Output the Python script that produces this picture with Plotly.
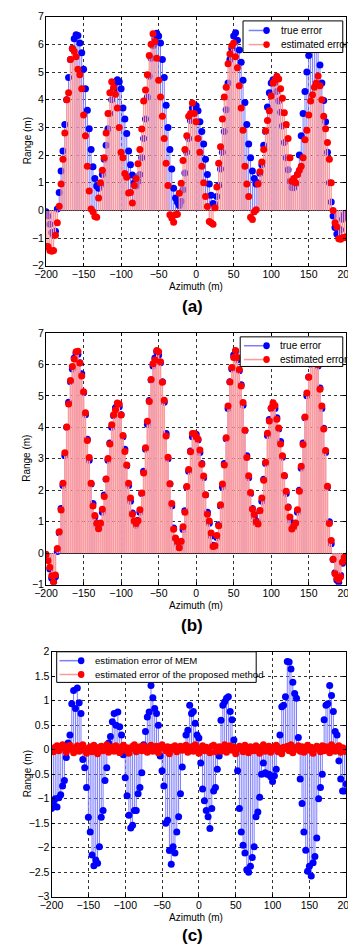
import plotly.graph_objects as go

# ---------------- data ----------------
AZIMUTH = [
    -200, -197.5, -195, -192.5, -190, -187.5, -185, -182.5, -180, -177.5,
    -175, -172.5, -170, -167.5, -165, -162.5, -160, -157.5, -155, -152.5,
    -150, -147.5, -145, -142.5, -140, -137.5, -135, -132.5, -130, -127.5,
    -125, -122.5, -120, -117.5, -115, -112.5, -110, -107.5, -105, -102.5,
    -100, -97.5, -95, -92.5, -90, -87.5, -85, -82.5, -80, -77.5,
    -75, -72.5, -70, -67.5, -65, -62.5, -60, -57.5, -55, -52.5,
    -50, -47.5, -45, -42.5, -40, -37.5, -35, -32.5, -30, -27.5,
    -25, -22.5, -20, -17.5, -15, -12.5, -10, -7.5, -5, -2.5,
    0, 2.5, 5, 7.5, 10, 12.5, 15, 17.5, 20, 22.5,
    25, 27.5, 30, 32.5, 35, 37.5, 40, 42.5, 45, 47.5,
    50, 52.5, 55, 57.5, 60, 62.5, 65, 67.5, 70, 72.5,
    75, 77.5, 80, 82.5, 85, 87.5, 90, 92.5, 95, 97.5,
    100, 102.5, 105, 107.5, 110, 112.5, 115, 117.5, 120, 122.5,
    125, 127.5, 130, 132.5, 135, 137.5, 140, 142.5, 145, 147.5,
    150, 152.5, 155, 157.5, 160, 162.5, 165, 167.5, 170, 172.5,
    175, 177.5, 180, 182.5, 185, 187.5, 190, 192.5, 195, 197.5,
    200,
]

# true range error (panels a and b)
TRUE_ERROR = [
    -0.05, -0.2, -0.5, -0.8, -0.9, -0.75, 0.05, 0.65, 1.42, 2.15,
    3.1, 4.0, 4.8, 5.45, 5.85, 6.2, 6.35, 6.32, 6.05, 5.7,
    5.1, 4.4, 3.62, 2.95, 2.2, 1.58, 1.15, 0.88, 0.8, 0.92,
    1.3, 1.85, 2.35, 2.95, 3.5, 4.0, 4.37, 4.62, 4.72, 4.65,
    4.4, 3.7, 3.3, 2.78, 2.15, 1.65, 1.28, 1.0, 0.88, 1.05,
    1.3, 1.9, 2.6, 3.3, 4.1, 4.85, 5.5, 5.95, 6.2, 6.4,
    6.3, 6.05, 5.45, 4.8, 3.8, 3.0, 2.2, 1.5, 0.8, 0.45,
    0.3, 0.18, 0.33, 0.75, 1.35, 2.1, 2.6, 3.25, 3.7, 3.76,
    3.78, 3.6, 3.2, 2.85, 2.4, 1.85, 1.3, 0.95, 0.55, 0.25,
    0.22, 0.5, 0.9, 1.5, 2.1, 2.85, 3.64, 4.6, 5.45, 5.85,
    6.3, 6.42, 6.15, 5.8, 5.35, 4.7, 3.9, 3.1, 2.4, 1.9,
    1.42, 1.15, 0.95, 1.0, 1.34, 1.65, 2.35, 2.85, 3.74, 4.25,
    4.6, 4.72, 4.6, 4.3, 3.95, 3.55, 3.05, 2.45, 1.9, 1.47,
    1.05, 0.83, 0.82, 0.95, 1.3, 2.0, 2.7, 3.5, 4.3, 5.0,
    5.6, 6.0, 6.25, 6.35, 6.25, 5.95, 5.25, 4.6, 3.97, 3.2,
    2.1, 1.0, 0.3, -0.2, -0.62, -0.85, -0.92, -0.7, -0.32, -0.15,
    -0.1,
]

# estimated error, panel (a)
EST_ERROR_A = [
    -1.3, -1.3, -1.45, -1.48, -1.45, -0.9, -0.45, 0.15, 0.95, 1.85,
    2.8, 4.0, 4.25, 5.45, 5.85, 5.75, 5.55, 5.1, 4.9, 4.4,
    3.45, 2.7, 1.6, 0.7, 0.05, -0.05, -0.22, -0.25, 0.45, 1.0,
    1.45, 1.9, 2.8, 3.5, 4.25, 4.65, 4.45, 4.2, 3.7, 3.0,
    2.1, 1.9, 1.33, 1.2, 0.63, 0.65, 0.27, 0.9, 1.15, 1.69,
    2.2, 2.94, 3.95, 4.35, 4.9, 5.6, 6.0, 6.38, 6.1, 5.5,
    4.7, 4.1, 3.4, 2.6, 1.7, 0.9, -0.16, -0.27, -0.43, -0.16,
    -0.14, 0.62, 0.98, 1.8, 2.2, 2.7, 3.4, 3.5, 3.88, 3.5,
    3.2, 2.6, 2.1, 1.6, 1.0, 0.5, 0.14, -0.4, -0.45, -0.5,
    0.1, 0.85, 1.7, 2.3, 3.3, 4.1, 4.45, 5.3, 5.65, 5.95,
    6.05, 5.55, 5.15, 4.5, 3.7, 2.9, 1.6, 0.95, 0.5, -0.25,
    -0.33, -0.05, 0.02, 0.95, 1.4, 1.75, 2.2, 2.88, 3.25, 3.6,
    4.13, 4.6, 4.7, 4.85, 4.75, 4.4, 4.05, 3.53, 3.1, 2.6,
    1.9, 1.05, 1.15, 1.0, 1.3, 1.45, 1.6, 1.9, 2.55, 2.9,
    3.45, 3.95, 4.18, 4.45, 4.6, 4.86, 4.5, 4.0, 3.4, 2.95,
    2.45, 1.85, 1.0, 0.0, -0.45, -0.6, -1.02, -1.04, -1.0, -0.98,
    -0.95,
]

# estimated error, panel (b)
EST_ERROR_B = [
    -0.03, -0.24, -0.45, -0.72, -0.92, -0.69, 0.15, 0.68, 1.37, 2.22,
    3.19, 4.01, 4.74, 5.49, 5.93, 6.17, 6.4, 6.42, 6.04, 5.63,
    5.13, 4.46, 3.58, 3.04, 2.22, 1.5, 1.2, 0.95, 0.78, 0.96,
    1.4, 1.8, 2.36, 3.01, 3.47, 4.08, 4.4, 4.56, 4.77, 4.74,
    4.39, 3.74, 3.23, 2.8, 2.22, 1.75, 1.24, 1.03, 0.94, 1.03,
    1.38, 1.91, 2.55, 3.35, 4.19, 4.82, 5.52, 6.02, 6.14, 6.44,
    6.4, 6.08, 5.43, 4.86, 3.72, 3.05, 2.21, 1.58, 0.76, 0.48,
    0.37, 0.17, 0.38, 0.84, 1.3, 2.12, 2.66, 3.22, 3.8, 3.8,
    3.71, 3.63, 3.28, 2.83, 2.45, 1.86, 1.24, 1.02, 0.64, 0.21,
    0.24, 0.56, 0.87, 1.54, 2.2, 2.8, 3.67, 4.68, 5.44, 5.9,
    6.22, 6.44, 6.22, 5.84, 5.31, 4.79, 3.91, 3.04, 2.46, 1.93,
    1.4, 1.23, 1.0, 0.93, 1.36, 1.75, 2.32, 2.89, 3.81, 4.2,
    4.61, 4.78, 4.69, 4.26, 3.98, 3.47, 3.1, 2.47, 1.97, 1.45,
    1.15, 0.77, 0.86, 0.96, 1.38, 1.97, 2.76, 3.45, 4.33, 5.09,
    5.59, 6.05, 6.18, 6.37, 6.32, 5.99, 5.21, 4.68, 3.95, 3.26,
    2.13, 0.94, 0.4, -0.19, -0.65, -0.8, -0.84, -0.75, -0.28, -0.13,
    -0.14,
]

# panel (c): estimation error of MEM
MEM_ERROR = [
    -1.2, -1.1, -1.0, -1.17, -0.98, -0.92, -0.74, -0.63, -0.16, 0.14,
    0.3, 0.94, 1.21, 0.84, 1.26, 0.96, 0.74, -0.2, -0.37, -0.77,
    -1.38, -1.68, -2.15, -2.37, -2.25, -2.32, -1.98, -1.38, -1.24, -0.63,
    -0.37, 0.14, 0.27, 0.57, 0.74, 0.5, 0.77, 0.47, 0.3, -0.1,
    -0.57, -0.94, -1.34, -1.6, -1.54, -1.24, -1.24, -0.9, -0.77, -0.47,
    0.1, 0.37, 0.67, 0.77, 1.31, 1.06, 0.84, 0.74, 0.5, -0.13,
    -0.43, -0.74, -1.5, -1.44, -2.06, -2.34, -1.98, -2.11, -1.68, -1.37,
    -0.9, -0.35, 0.04, 0.3, 0.4, 0.91, 0.74, 0.78, 0.54, 0.3,
    0.24, -0.27, -0.8, -1.04, -1.24, -1.37, -1.61, -1.2, -0.84, -0.77,
    -0.4, -0.13, 0.6, 0.91, 0.98, 1.05, 1.08, 0.78, 0.61, 0.2,
    0.0, -0.43, -1.2, -1.68, -1.95, -2.11, -2.45, -2.5, -2.38, -2.2,
    -1.98, -1.37, -1.27, -0.97, -0.5, -0.27, -0.47, -0.5, -0.5, -0.55,
    -0.65, -0.53, -0.4, 0.04, 0.3, 0.88, 0.91, 1.08, 1.8, 1.79,
    1.65, 1.38, 1.15, 1.05, 0.25, -0.6, -1.1, -1.68, -2.05, -2.48,
    -2.38, -2.58, -2.31, -2.18, -1.8, -1.0, -0.77, -0.5, 0.61, 0.91,
    0.94, 1.31, 1.11, 0.78, 0.37, 0.3, -0.23, -0.6, -0.84, -0.84,
    -0.7,
]

# panel (c): estimated error of the proposed method
PROPOSED_ERROR = [
    0.02, -0.04, 0.05, 0.08, -0.02, 0.06, 0.1, 0.03, -0.05, 0.07,
    0.09, 0.01, -0.06, 0.04, 0.08, -0.03, 0.05, 0.1, -0.01, -0.07,
    0.03, 0.06, -0.04, 0.09, 0.02, -0.08, 0.05, 0.07, -0.02, 0.04,
    0.1, -0.05, 0.01, 0.06, -0.03, 0.08, 0.03, -0.06, 0.05, 0.09,
    -0.01, 0.04, -0.07, 0.02, 0.07, 0.1, -0.04, 0.03, 0.06, -0.02,
    0.08, 0.01, -0.05, 0.05, 0.09, -0.03, 0.02, 0.07, -0.06, 0.04,
    0.1, 0.03, -0.02, 0.06, -0.08, 0.05, 0.01, 0.08, -0.04, 0.03,
    0.07, -0.01, 0.05, 0.09, -0.05, 0.02, 0.06, -0.03, 0.1, 0.04,
    -0.07, 0.03, 0.08, -0.02, 0.05, 0.01, -0.06, 0.07, 0.09, -0.04,
    0.02, 0.06, -0.03, 0.04, 0.1, -0.05, 0.03, 0.08, -0.01, 0.05,
    -0.08, 0.02, 0.07, 0.04, -0.04, 0.09, 0.01, -0.06, 0.06, 0.03,
    -0.02, 0.08, 0.05, -0.07, 0.02, 0.1, -0.03, 0.04, 0.07, -0.05,
    0.01, 0.06, 0.09, -0.04, 0.03, -0.08, 0.05, 0.02, 0.07, -0.02,
    0.1, -0.06, 0.04, 0.01, 0.08, -0.03, 0.06, -0.05, 0.03, 0.09,
    -0.01, 0.05, -0.07, 0.02, 0.07, 0.04, -0.04, 0.08, -0.02, 0.06,
    0.03, -0.06, 0.1, 0.01, -0.03, 0.05, 0.08, -0.05, 0.04, 0.02,
    -0.04,
]

X_TICKS = [-200, -150, -100, -50, 0, 50, 100, 150, 200]
Y_TICKS_A = [-2, -1, 0, 1, 2, 3, 4, 5, 6, 7]
Y_TICKS_B = [-1, 0, 1, 2, 3, 4, 5, 6, 7]
Y_TICKS_C = [-3, -2.5, -2, -1.5, -1, -0.5, 0, 0.5, 1, 1.5, 2]

LABELS_AB = ["true error", "estimated error"]
LABELS_C = ["estimation error of MEM", "estimated error of the proposed method"]
PANEL_TAGS = ["(a)", "(b)", "(c)"]

# ---------------- styling ----------------
FONT = "Liberation Sans, Arial, sans-serif"
BLUE = "#0000ff"
RED = "#ff0000"
BLUE_STEM = "#7d7dff"
RED_STEM = "#ff9a9a"
W, H = 356, 945


def stem_xy(xs, ys):
    sx, sy = [], []
    for x, y in zip(xs, ys):
        sx += [x, x, None]
        sy += [0, y, None]
    return sx, sy


fig = go.Figure()


def add_stem(xs, ys, marker_color, stem_color, stem_width, xa, ya):
    sx, sy = stem_xy(xs, ys)
    fig.add_trace(go.Scatter(x=sx, y=sy, mode="lines", line=dict(color=stem_color, width=stem_width),
                             xaxis=xa, yaxis=ya, showlegend=False, hoverinfo="skip"))
    fig.add_trace(go.Scatter(x=xs, y=ys, mode="markers",
                             marker=dict(color=marker_color, size=7, line=dict(width=0)),
                             xaxis=xa, yaxis=ya, showlegend=False))


add_stem(AZIMUTH, TRUE_ERROR, BLUE, BLUE_STEM, 1, "x", "y")
add_stem(AZIMUTH, EST_ERROR_A, RED, RED_STEM, 1.3, "x", "y")
add_stem(AZIMUTH, TRUE_ERROR, BLUE, BLUE_STEM, 1, "x2", "y2")
add_stem(AZIMUTH, EST_ERROR_B, RED, RED_STEM, 1.6, "x2", "y2")
add_stem(AZIMUTH, MEM_ERROR, BLUE, BLUE_STEM, 1, "x3", "y3")
add_stem(AZIMUTH, PROPOSED_ERROR, RED, RED_STEM, 1.3, "x3", "y3")

# panel boxes in pixels: (left, right, top, bottom)
BOX_A = (27.7, 346.7, 2.7, 255.0)
BOX_B = (27.7, 346.7, 323.0, 578.0)
BOX_C = (33.5, 346.7, 646.0, 894.0)


def px(x):
    return x / W


def py(y):
    return 1 - y / H


def xdom(b):
    return [px(b[0]), px(b[1])]


def ydom(b):
    return [py(b[3]), py(b[2])]


axis_common = dict(
    showline=True, linecolor="black", linewidth=1, mirror="ticks",
    ticks="inside", ticklen=3, tickcolor="black",
    showgrid=True, gridcolor="rgba(0,0,0,0.8)", griddash="dot", gridwidth=1,
    tickfont=dict(family=FONT, size=10.5, color="black"),
    zeroline=False,
)

layout = dict(
    width=W, height=H, margin=dict(l=0, r=0, t=0, b=0),
    paper_bgcolor="white", plot_bgcolor="white",
    font=dict(family=FONT, color="black"), showlegend=False,
)
for i, (b, yt, yr) in enumerate([(BOX_A, Y_TICKS_A, [-2, 7]), (BOX_B, Y_TICKS_B, [-1, 7]),
                                  (BOX_C, Y_TICKS_C, [-3, 2])]):
    sfx = "" if i == 0 else str(i + 1)
    layout["xaxis" + sfx] = dict(axis_common, domain=xdom(b), range=[-200, 200],
                                 tickvals=X_TICKS, anchor="y" + sfx, ticklabelstandoff=-1)
    layout["yaxis" + sfx] = dict(axis_common, domain=ydom(b), range=yr,
                                 tickvals=yt, anchor="x" + sfx, ticklabelstandoff=-1,
                                 zeroline=(i < 2), zerolinecolor="black", zerolinewidth=1)

annotations = []
shapes = []
for b, tag, az_y, tag_y in [(BOX_A, PANEL_TAGS[0], 276, 296), (BOX_B, PANEL_TAGS[1], 599, 619),
                            (BOX_C, PANEL_TAGS[2], 915, 933)]:
    annotations.append(dict(text="Azimuth (m)", x=px(187), y=py(az_y), xref="paper", yref="paper",
                            showarrow=False, font=dict(family=FONT, size=10), xanchor="center",
                            yanchor="middle"))
    annotations.append(dict(text="<b>%s</b>" % tag, x=px(183), y=py(tag_y), xref="paper",
                            yref="paper", showarrow=False, font=dict(family=FONT, size=17),
                            xanchor="center", yanchor="middle"))
    annotations.append(dict(text="Range (m)", x=px(7.5), y=py((b[2] + b[3]) / 2),
                            xref="paper", yref="paper", showarrow=False, textangle=-90,
                            font=dict(family=FONT, size=10), xanchor="center", yanchor="middle"))

# hand-drawn MATLAB-style legends: (box l, r, t, b, line x0, x1, marker x, text x, row ys, labels, font)
LEGENDS = [
    (237, 343, 7, 39, 243, 265, 262, 275, (16.7, 31), LABELS_AB, 10),
    (234, 343, 327, 357, 238, 264, 262, 274, (336, 350), LABELS_AB, 10),
    (39, 251, 646, 677, 42, 67, 65, 78, (655, 669), LABELS_C, 9.6),
]
for (l, r, t, bt, lx0, lx1, mx, tx, rows, labels, fs) in LEGENDS:
    shapes.append(dict(type="rect", xref="paper", yref="paper", x0=px(l), x1=px(r),
                       y0=py(bt), y1=py(t), line=dict(color="black", width=1),
                       fillcolor="white", layer="above"))
    for ry, lab, mc, lc in zip(rows, labels, (BLUE, RED), (BLUE_STEM, RED_STEM)):
        shapes.append(dict(type="line", xref="paper", yref="paper", x0=px(lx0), x1=px(lx1),
                           y0=py(ry), y1=py(ry), line=dict(color=lc, width=1.5), layer="above"))
        shapes.append(dict(type="circle", xref="paper", yref="paper", x0=px(mx - 3.5),
                           x1=px(mx + 3.5), y0=py(ry + 3.5), y1=py(ry - 3.5),
                           line=dict(width=0), fillcolor=mc, layer="above"))
        annotations.append(dict(text=lab, x=px(tx), y=py(ry), xref="paper", yref="paper",
                                showarrow=False, xanchor="left", yanchor="middle",
                                font=dict(family=FONT, size=fs, color="black")))

layout["annotations"] = annotations
layout["shapes"] = shapes

fig.update_layout(**layout)
fig.write_html("out.html")
